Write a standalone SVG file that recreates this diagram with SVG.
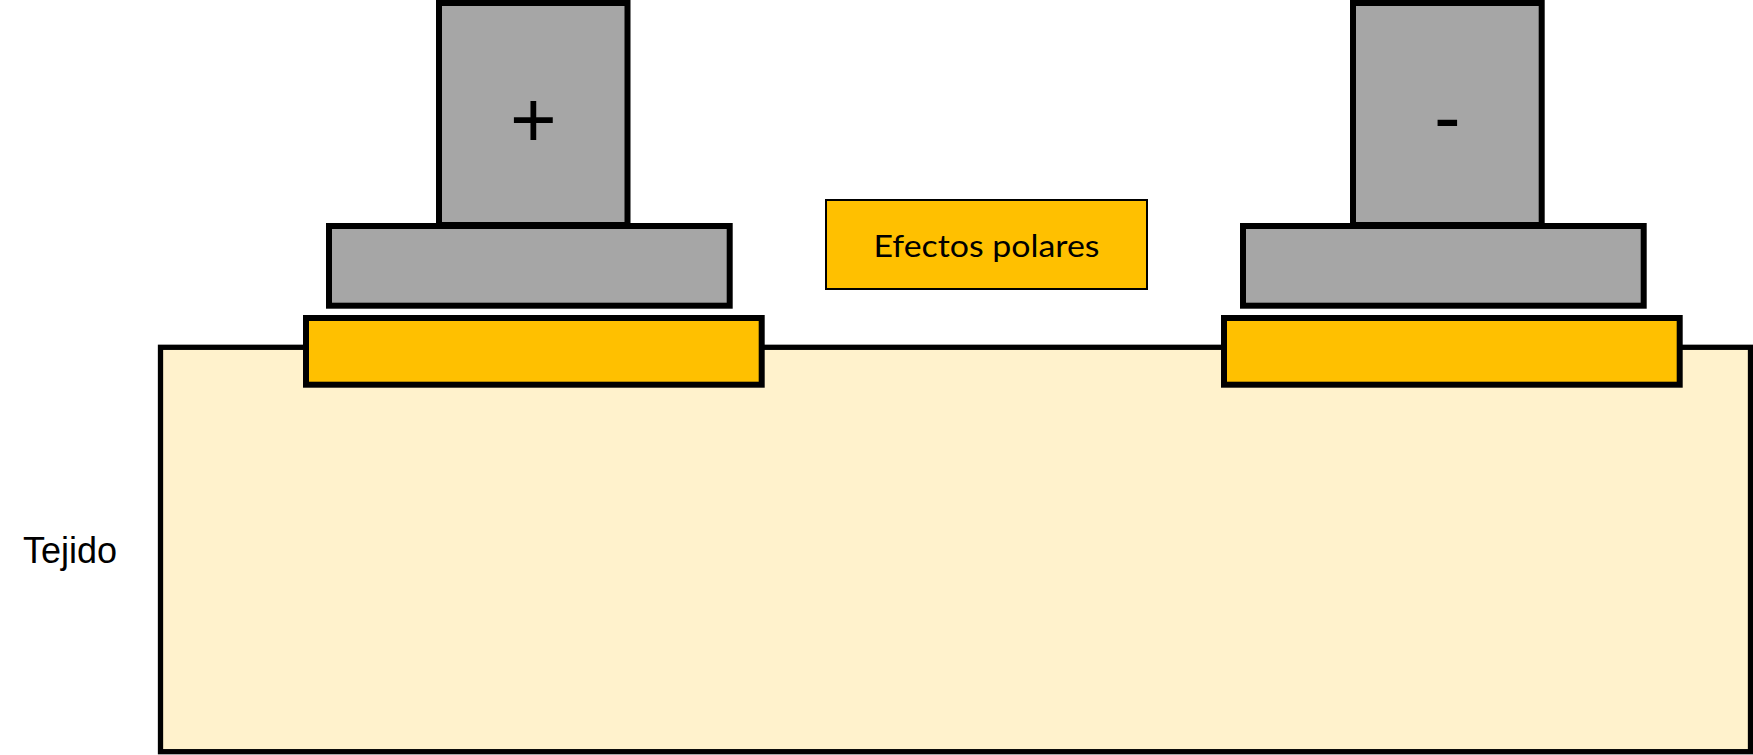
<svg xmlns="http://www.w3.org/2000/svg" width="1753" height="755" viewBox="0 0 1753 755">
  <style>
    .thick { stroke: #000000; stroke-width: 6; }
    .gray { fill: #A6A6A6; }
    .pad { fill: #FFC000; }
    .tissue { fill: #FFF2CC; stroke: #000000; stroke-width: 5.3; }
    .sign { font-family: "Liberation Sans", Arial, sans-serif; font-size: 80px; fill: #000000; text-anchor: middle; }
    .label { font-family: "Liberation Sans", Arial, sans-serif; font-size: 36px; fill: #000000; }
    .effect { font-family: Lato, "Open Sans", sans-serif; font-size: 31px; fill: #000000; text-anchor: middle; }
  </style>
  <rect width="1753" height="755" fill="#FFFFFF"/>

  <g id="tejido">
    <rect class="tissue" x="160.5" y="347.3" width="1590" height="404.4"/>
    <text class="label" x="23" y="562.7">Tejido</text>
  </g>

  <g id="electrodo-positivo">
    <rect class="gray thick" x="439" y="3" width="188.5" height="222"/>
    <rect class="gray thick" x="329" y="226" width="400.7" height="79.7"/>
    <rect class="pad thick" x="306" y="318" width="455.7" height="66.7"/>
    <text class="sign" x="533.3" y="147">+</text>
  </g>

  <g id="electrodo-negativo">
    <rect class="gray thick" x="1353" y="3" width="188.7" height="222"/>
    <rect class="gray thick" x="1243" y="226" width="400.7" height="79.7"/>
    <rect class="pad thick" x="1224" y="318" width="455.7" height="66.7"/>
    <text class="sign" x="1447.3" y="144">-</text>
  </g>

  <g id="efectos-polares">
    <rect x="826" y="200" width="321" height="89" fill="#FFC000" stroke="#000000" stroke-width="2"/>
    <text class="effect" x="986.5" y="257.3" textLength="226" lengthAdjust="spacingAndGlyphs">Efectos polares</text>
  </g>

  <g id="connectors"></g>
</svg>
